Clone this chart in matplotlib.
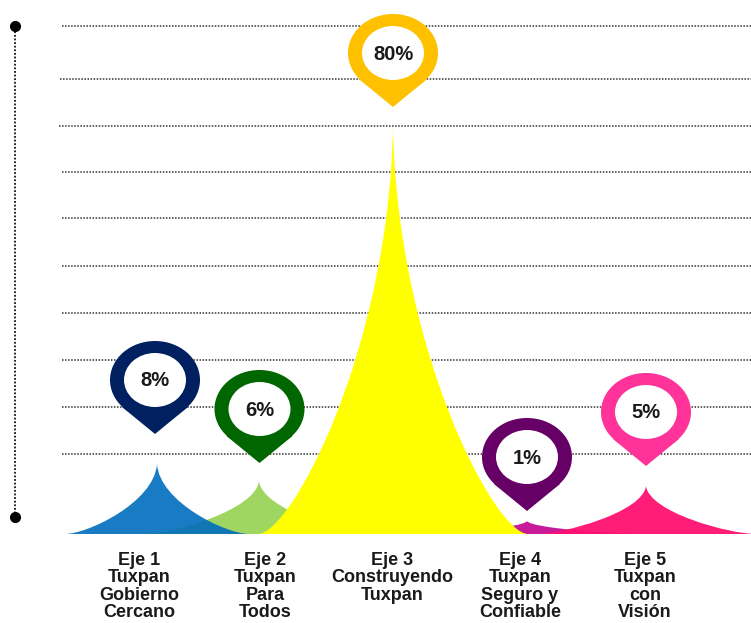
import matplotlib
matplotlib.use("Agg")
import matplotlib.pyplot as plt
from matplotlib.patches import Ellipse, PathPatch, Polygon
from matplotlib.path import Path

plt.rcParams['font.family'] = ['Liberation Sans', 'DejaVu Sans']

# heights are measured above the baseline of the peaks
categories = ["Eje 1\nTuxpan\nGobierno\nCercano", "Eje 2\nTuxpan\nPara\nTodos", "Eje 3\nConstruyendo\nTuxpan",
              "Eje 4\nTuxpan\nSeguro y\nConfiable", "Eje 5\nTuxpan\ncon\nVisión"]
percent_labels = ["8%", "6%", "80%", "1%", "5%"]
peak_x = [157, 259, 393, 527, 646]
peak_height = [70, 53, 408, 13, 48]
peak_halfwidth = [92, 115, 135, 115, 110]
peak_colors = ["#006dbd", "#9fd662", "#ffff00", "#c81b9a", "#ff1070"]
peak_alpha = [0.9, 1, 1, 1, 0.95]
draw_order = [1, 0, 3, 4, 2]

pin_x = [155, 259.5, 393, 527, 646]
pin_tip = [100, 71, 427, 23, 68]
pin_colors = ["#002060", "#006600", "#ffc000", "#660066", "#ff3399"]
label_x = [139, 265, 392, 520, 645]

grid_heights = [80, 127, 174, 221, 268, 316, 362, 408, 455, 508]
grid_start = [62, 62, 62, 62, 62, 62, 62, 59, 60, 62]


def draw_peak(ax, x, h, w, color, alpha):
    # sharp cusp at the top, flat run-out at the base
    verts = [(x - w, 0), (x - 0.757 * w, 0), (x - 0.03 * w, 0.45 * h), (x, h),
             (x + 0.03 * w, 0.45 * h), (x + 0.757 * w, 0), (x + w, 0), (x - w, 0)]
    codes = [Path.MOVETO, Path.CURVE4, Path.CURVE4, Path.CURVE4, Path.CURVE4, Path.CURVE4, Path.CURVE4, Path.CLOSEPOLY]
    ax.add_patch(PathPatch(Path(verts, codes), facecolor=color, edgecolor="none", alpha=alpha, zorder=3))


def draw_pin(ax, x, tip, color, label):
    cy = tip + 54
    ax.add_patch(Polygon([(x - 33, cy - 27), (x, tip), (x + 33, cy - 27)], facecolor=color, edgecolor="none", zorder=4))
    ax.add_patch(Ellipse((x, cy), 90, 78, facecolor=color, edgecolor="none", zorder=4))
    ax.add_patch(Ellipse((x, cy), 62, 54, facecolor="white", edgecolor="none", zorder=5))
    ax.text(x, cy - 1, label, ha="center", va="center", fontsize=14.5, fontweight="bold", color="#1a1a1a", zorder=6)


fig = plt.figure(figsize=(7.51, 6.23), dpi=100)
ax = fig.add_axes([0, 0, 1, 1])
ax.set_xlim(0, 751)
ax.set_ylim(-89, 534)
ax.axis("off")

for h, x0 in zip(grid_heights, grid_start):
    ax.plot([x0, 751], [h, h], color="#333333", lw=1.1, ls=(0, (1, 1)), zorder=1)

# vertical rule on the left with its two end dots
ax.plot([14.5, 14.5], [17, 508], color="#111111", lw=1.3, ls=(0, (1, 1)), zorder=1)
ax.plot([14.5, 14.5], [17, 508], "o", color="black", ms=7, zorder=2, ls="none")

for i in draw_order:
    draw_peak(ax, peak_x[i], peak_height[i], peak_halfwidth[i], peak_colors[i], peak_alpha[i])

for i in range(5):
    draw_pin(ax, pin_x[i], pin_tip[i], pin_colors[i], percent_labels[i])
    ax.text(label_x[i], -18, categories[i], ha="center", va="top", fontsize=13, fontweight="bold",
            color="#1a1a1a", linespacing=1.03)

fig.savefig("out.png", dpi=100)
